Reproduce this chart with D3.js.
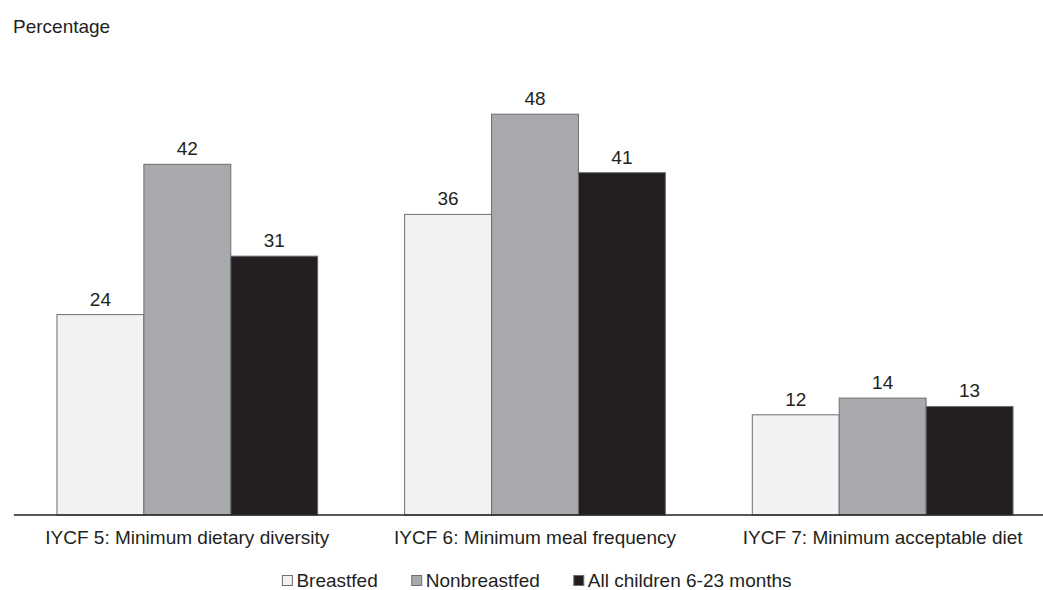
<!DOCTYPE html>
<html lang="en">
<head>
<meta charset="UTF-8">
<title>IYCF indicators</title>
<script src="https://cdn.jsdelivr.net/npm/d3@7"></script>
<style>
  body { margin: 0; background: #fff; }
  svg text { font-family: "Liberation Sans", Arial, sans-serif; font-size: 19px; fill: #231f20; }
</style>
</head>
<body>
<svg id="chart"></svg>
<script>
const categories = ["IYCF 5: Minimum dietary diversity", "IYCF 6: Minimum meal frequency", "IYCF 7: Minimum acceptable diet"];
const series = ["Breastfed", "Nonbreastfed", "All children 6-23 months"];
const breastfed = [24, 36, 12];
const nonbreastfed = [42, 48, 14];
const allChildren = [31, 41, 13];
const values = [breastfed, nonbreastfed, allChildren];
const colors = ["#f1f2f2", "#a7a9ac", "#231f20"];

const W = 1043, H = 590;
const base = 515;

const svg = d3.select("#chart").attr("width", W).attr("height", H);

const x0 = d3.scaleBand().domain(categories).range([13.5, 1056.5])
  .paddingInner(0.25).paddingOuter(0.125);
const x1 = d3.scaleBand().domain(series).range([0, x0.bandwidth()]);
const y = d3.scaleLinear().domain([0, 60]).range([base, 14]);

svg.append("text").attr("x", 13).attr("y", 33).text("Percentage");

const groups = svg.selectAll("g.grp")
  .data(categories)
  .enter().append("g")
  .attr("class", "grp")
  .attr("transform", d => `translate(${x0(d)},0)`);

groups.selectAll("rect")
  .data((c, ci) => series.map((s, si) => ({ s, si, v: values[si][ci] })))
  .enter().append("rect")
  .attr("x", d => x1(d.s))
  .attr("y", d => y(d.v))
  .attr("width", x1.bandwidth())
  .attr("height", d => base - y(d.v))
  .attr("fill", d => colors[d.si])
  .attr("stroke", "#6d6e71")
  .attr("stroke-width", 1);

groups.selectAll("text.val")
  .data((c, ci) => series.map((s, si) => ({ s, si, v: values[si][ci] })))
  .enter().append("text")
  .attr("class", "val")
  .attr("x", d => x1(d.s) + x1.bandwidth() / 2)
  .attr("y", d => y(d.v) - 9)
  .attr("text-anchor", "middle")
  .text(d => d.v);

svg.append("line")
  .attr("x1", 14).attr("x2", W)
  .attr("y1", base).attr("y2", base)
  .attr("stroke", "#231f20").attr("stroke-width", 1.5);

svg.selectAll("text.cat")
  .data(categories)
  .enter().append("text")
  .attr("class", "cat")
  .attr("x", d => x0(d) + x0.bandwidth() / 2)
  .attr("y", 544)
  .attr("text-anchor", "middle")
  .text(d => d);

// legend, centred under the plot
const legend = svg.append("g");
let lx = 0;
series.forEach((s, i) => {
  const item = legend.append("g").attr("transform", `translate(${lx},0)`);
  item.append("rect")
    .attr("x", 0).attr("y", 575.5)
    .attr("width", 10).attr("height", 10)
    .attr("fill", colors[i])
    .attr("stroke", "#6d6e71").attr("stroke-width", 1);
  const t = item.append("text").attr("x", 14).attr("y", 587).text(s);
  lx += 14 + t.node().getComputedTextLength() + 34;
});
const legendW = lx - 34;
legend.attr("transform", `translate(${537 - legendW / 2},0)`);
</script>
</body>
</html>
